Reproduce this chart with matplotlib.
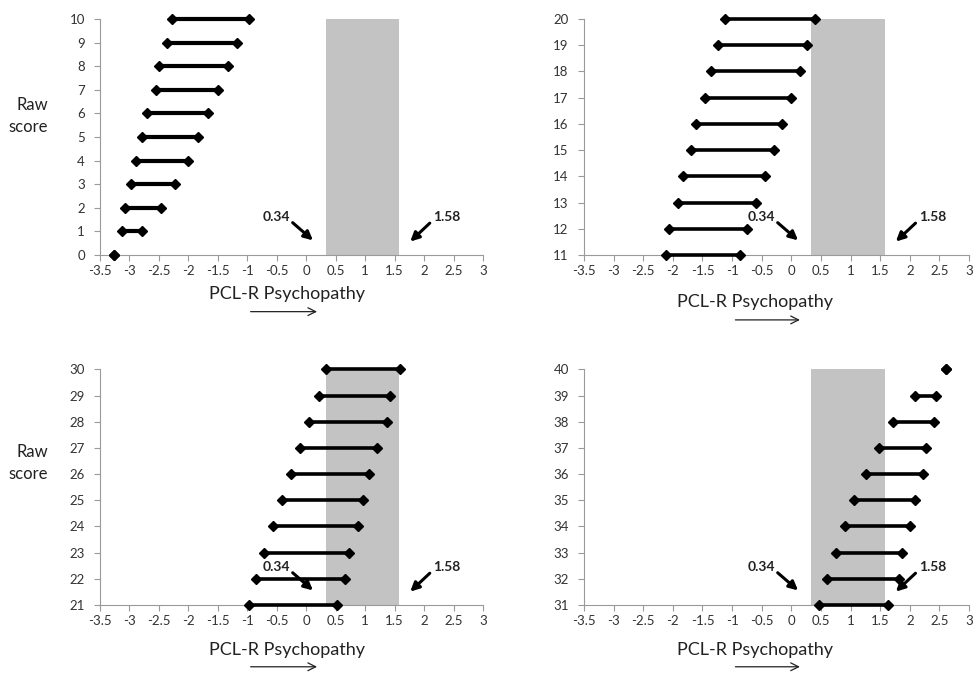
import numpy as np
import matplotlib.pyplot as plt

plt.rcParams['font.family'] = ['Lato', 'DejaVu Sans']
plt.rcParams['axes.unicode_minus'] = False

# PCL-R interval (low, high) for each raw score, four panels
scores_a = list(range(0, 11))
low_a = [-3.26, -3.13, -3.08, -2.97, -2.89, -2.78, -2.70, -2.55, -2.50, -2.36, -2.28]
high_a = [-3.26, -2.78, -2.46, -2.22, -2.01, -1.84, -1.66, -1.50, -1.33, -1.18, -0.98]

scores_b = list(range(11, 21))
low_b = [-2.12, -2.06, -1.92, -1.83, -1.69, -1.61, -1.46, -1.36, -1.23, -1.12]
high_b = [-0.87, -0.74, -0.59, -0.45, -0.30, -0.15, -0.01, 0.14, 0.26, 0.40]

scores_c = list(range(21, 31))
low_c = [-0.97, -0.86, -0.72, -0.57, -0.42, -0.26, -0.10, 0.05, 0.21, 0.34]
high_c = [0.52, 0.65, 0.73, 0.87, 0.97, 1.06, 1.20, 1.37, 1.42, 1.59]

scores_d = list(range(31, 41))
low_d = [0.46, 0.60, 0.75, 0.91, 1.06, 1.26, 1.48, 1.72, 2.09, 2.61]
high_d = [1.64, 1.81, 1.87, 2.00, 2.08, 2.22, 2.27, 2.41, 2.45, 2.61]

# shaded band
band_lo, band_hi = 0.34, 1.58
band_labels = ['0.34', '1.58']

x_ticks = np.arange(-3.5, 3.01, 0.5)
x_label = 'PCL-R Psychopathy'
y_label = 'Raw\nscore'

panels = [
    (scores_a, low_a, high_a),
    (scores_b, low_b, high_b),
    (scores_c, low_c, high_c),
    (scores_d, low_d, high_d),
]

fig = plt.figure(figsize=(9.74, 6.73), dpi=100)
rects = [
    [0.1027, 0.6211, 0.3932, 0.3507],
    [0.5996, 0.6211, 0.3953, 0.3507],
    [0.1027, 0.1010, 0.3932, 0.3502],
    [0.5996, 0.1010, 0.3953, 0.3502],
]
line_w = [3.0, 2.6, 2.6, 2.6]
lab_x = [0.489, 0.445, 0.489, 0.445]
lab_y = [-0.165, -0.198, -0.19, -0.19]
arr_y = [-0.24, -0.275, -0.262, -0.262]
arr_x1 = [0.574, 0.568, 0.574, 0.568]

for i, (sc, lo, hi) in enumerate(panels):
    ax = fig.add_axes(rects[i])
    ax.axvspan(band_lo, band_hi, color='#c3c3c3', lw=0, zorder=0)
    for s, a, b in zip(sc, lo, hi):
        ax.plot([a, b], [s, s], '-', color='black', lw=line_w[i],
                marker='D', ms=5, zorder=3, clip_on=False)

    ax.set_xlim(-3.5, 3)
    ax.set_ylim(sc[0], sc[-1])
    ax.set_xticks(x_ticks)
    ax.set_xticklabels(['{:g}'.format(v) for v in x_ticks])
    ax.set_yticks(sc)
    for side in ['top', 'right']:
        ax.spines[side].set_visible(False)
    for side in ['left', 'bottom']:
        ax.spines[side].set_color('#9a9a9a')
    ax.tick_params(axis='both', direction='out', length=4, color='#9a9a9a',
                   labelsize=9.5, labelcolor='#333333')
    ax.tick_params(axis='y', pad=7)
    ax.tick_params(axis='x', pad=3)

    ax.text(lab_x[i], lab_y[i], x_label, transform=ax.transAxes,
            ha='center', va='center', fontsize=13, color='#222222')
    ax.annotate('', xy=(arr_x1[i], arr_y[i]), xytext=(0.386, arr_y[i]),
                xycoords='axes fraction', textcoords='axes fraction',
                annotation_clip=False,
                arrowprops=dict(arrowstyle='->', lw=0.9, color='#222222',
                                mutation_scale=14))

    # band edge labels with arrows
    ax.text(0.46, 0.162, band_labels[0], transform=ax.transAxes,
            ha='center', va='center', fontsize=10, fontweight='bold',
            color='#222222')
    ax.annotate('', xy=(0.556, 0.062), xytext=(0.503, 0.137),
                xycoords='axes fraction', textcoords='axes fraction',
                arrowprops=dict(arrowstyle='-|>', lw=2.2, color='black',
                                mutation_scale=13, shrinkA=0, shrinkB=0))
    ax.text(0.906, 0.162, band_labels[1], transform=ax.transAxes,
            ha='center', va='center', fontsize=10, fontweight='bold',
            color='#222222')
    ax.annotate('', xy=(0.81, 0.057), xytext=(0.861, 0.135),
                xycoords='axes fraction', textcoords='axes fraction',
                arrowprops=dict(arrowstyle='-|>', lw=2.2, color='black',
                                mutation_scale=13, shrinkA=0, shrinkB=0))

fig.text(48 / 974, 1 - 116 / 673, y_label, ha='right', va='center',
         fontsize=12, color='#222222', linespacing=1.5)
fig.text(48 / 974, 1 - 463 / 673, y_label, ha='right', va='center',
         fontsize=12, color='#222222', linespacing=1.5)

fig.savefig('out.png', dpi=100)
